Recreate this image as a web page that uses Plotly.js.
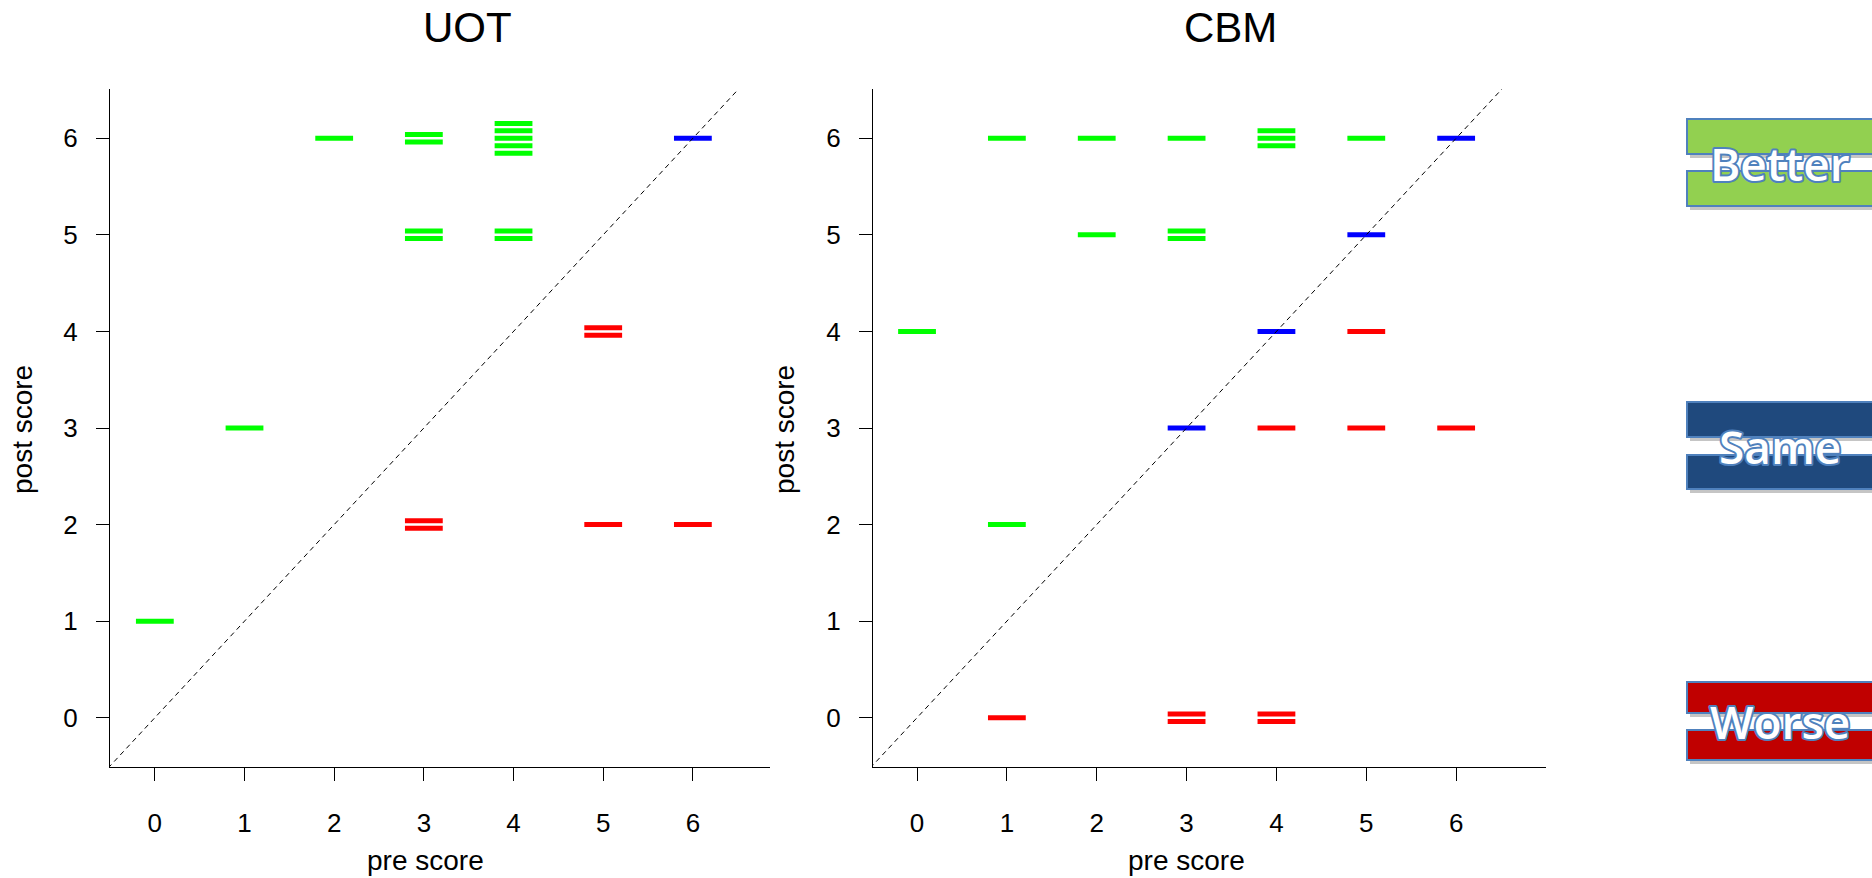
<!DOCTYPE html>
<html>
<head>
<meta charset="utf-8">
<script src="https://cdn.plot.ly/plotly-3.0.1.min.js"></script>
<style>
  html, body { margin: 0; padding: 0; background: #ffffff; }
  #chart { width: 1872px; height: 878px; }
  .annotation[data-index="0"] .annotation-text,
  .annotation[data-index="1"] .annotation-text,
  .annotation[data-index="2"] .annotation-text {
    stroke: #4f81bd; stroke-width: 4px; paint-order: stroke fill; stroke-linejoin: round;
  }
</style>
</head>
<body>
<div id="chart"></div>
<script>
// ---------- data (pre score, post score per participant) ----------
const uotPre  = [0, 1, 2, 3, 3, 3, 3, 3, 3, 4, 4, 4, 4, 4, 4, 4, 5, 5, 5, 6, 6];
const uotPost = [1, 3, 6, 6, 6, 5, 5, 2, 2, 6, 6, 6, 6, 6, 5, 5, 4, 4, 2, 2, 6];

const cbmPre  = [0, 1, 1, 1, 2, 2, 3, 3, 3, 3, 3, 3, 4, 4, 4, 4, 4, 4, 4, 5, 5, 5, 5, 6, 6];
const cbmPost = [4, 6, 2, 0, 6, 5, 6, 5, 5, 3, 0, 0, 6, 6, 6, 4, 3, 0, 0, 6, 5, 4, 3, 6, 3];

const panelTitles = ["UOT", "CBM"];
const tickValues = [0, 1, 2, 3, 4, 5, 6];
const tickLabels = ["0", "1", "2", "3", "4", "5", "6"];
const legendLabels = ["Better", "Same", "Worse"];

// ---------- styling ----------
const W = 1872, H = 878;
const COLORS = { better: "#00ff00", same: "#0000ff", worse: "#ff0000" };
const STACK_STEP = 0.077;   // vertical spacing of tied observations (y units)
const FONT = "Liberation Sans, Arial, sans-serif";
const px = v => v / W;
const py = v => 1 - v / H;

function stackPoints(pre, post) {
  const groups = {};
  pre.forEach((p, i) => {
    const k = p + "|" + post[i];
    (groups[k] = groups[k] || []).push(i);
  });
  const out = { better: { x: [], y: [] }, same: { x: [], y: [] }, worse: { x: [], y: [] } };
  Object.values(groups).forEach(idx => {
    const n = idx.length;
    idx.forEach((i, j) => {
      const cat = post[i] > pre[i] ? "better" : (post[i] < pre[i] ? "worse" : "same");
      out[cat].x.push(pre[i]);
      out[cat].y.push(post[i] + (j - (n - 1) / 2) * STACK_STEP);
    });
  });
  return out;
}

function panelTraces(pre, post, xa, ya) {
  const s = stackPoints(pre, post);
  const tr = [];
  ["better", "same", "worse"].forEach(cat => {
    tr.push({
      type: "scatter", mode: "markers", x: s[cat].x, y: s[cat].y,
      xaxis: xa, yaxis: ya, hoverinfo: "skip", cliponaxis: false,
      marker: { symbol: "line-ew", size: 27, color: COLORS[cat],
                line: { color: COLORS[cat], width: 5 } }
    });
  });
  tr.push({
    type: "scatter", mode: "lines", x: [-1, 8], y: [-1, 8],
    xaxis: xa, yaxis: ya, hoverinfo: "skip",
    line: { color: "#000000", width: 1, dash: "5px,4px" }
  });
  return tr;
}

const data = [
  ...panelTraces(uotPre, uotPost, "x", "y"),
  ...panelTraces(cbmPre, cbmPost, "x2", "y2")
];

function xAxis(domain, range, anchor) {
  return {
    domain: domain, range: range, anchor: anchor,
    tickmode: "array", tickvals: tickValues, ticktext: tickLabels,
    ticks: "outside", ticklen: 13, tickwidth: 1, tickcolor: "#000",
    showline: true, linecolor: "#000", linewidth: 1,
    showgrid: false, zeroline: false, fixedrange: true,
    ticklabelstandoff: 20,
    tickfont: { family: FONT, size: 26, color: "#000" }
  };
}
function yAxis(domain, range, anchor) {
  return {
    domain: domain, range: range, anchor: anchor,
    tickmode: "array", tickvals: tickValues, ticktext: tickLabels,
    ticks: "outside", ticklen: 13, tickwidth: 1, tickcolor: "#000",
    showline: true, linecolor: "#000", linewidth: 1,
    showgrid: false, zeroline: false, fixedrange: true,
    ticklabelstandoff: 13,
    tickfont: { family: FONT, size: 26, color: "#000" }
  };
}

const yDom = [py(767), py(89)];

// legend boxes (two bars with a gap, shadow behind)
const legendBoxes = [
  { fill: "#92d050", top: [119, 154], bottom: [171, 206], textY: 163 },
  { fill: "#1f497d", top: [402, 437], bottom: [455, 489], textY: 446 },
  { fill: "#c00000", top: [682, 713], bottom: [730, 760], textY: 721 }
];
const shapes = [];
legendBoxes.forEach(b => {
  [b.top, b.bottom].forEach(r => {
    shapes.push({ type: "rect", xref: "paper", yref: "paper",
      x0: px(1690), x1: px(1880), y0: py(r[1] + 4), y1: py(r[0] + 4),
      fillcolor: "rgba(90,90,90,0.35)", line: { width: 0 } });
    shapes.push({ type: "rect", xref: "paper", yref: "paper",
      x0: px(1687), x1: px(1880), y0: py(r[1]), y1: py(r[0]),
      fillcolor: b.fill, line: { color: "#4f81bd", width: 2 } });
  });
});

const annotations = [];
legendLabels.forEach((t, i) => {
  annotations.push({ text: t, xref: "paper", yref: "paper",
    x: px(1780), y: py(legendBoxes[i].textY), xanchor: "center", yanchor: "middle",
    showarrow: false, font: { family: "Open Sans, sans-serif", size: 46, weight: 600, color: "#ffffff" } });
});
// panel titles
annotations.push({ text: panelTitles[0], xref: "paper", yref: "paper", x: px(467), y: py(27),
  xanchor: "center", yanchor: "middle", showarrow: false,
  font: { family: FONT, size: 42, color: "#000" } });
annotations.push({ text: panelTitles[1], xref: "paper", yref: "paper", x: px(1230), y: py(27),
  xanchor: "center", yanchor: "middle", showarrow: false,
  font: { family: FONT, size: 42, color: "#000" } });
// axis titles
annotations.push({ text: "pre score", xref: "paper", yref: "paper", x: px(425), y: py(860),
  xanchor: "center", yanchor: "middle", showarrow: false, font: { family: FONT, size: 28, color: "#000" } });
annotations.push({ text: "pre score", xref: "paper", yref: "paper", x: px(1186), y: py(860),
  xanchor: "center", yanchor: "middle", showarrow: false, font: { family: FONT, size: 28, color: "#000" } });
annotations.push({ text: "post score", xref: "paper", yref: "paper", x: px(22), y: py(430),
  xanchor: "center", yanchor: "middle", textangle: -90, showarrow: false, font: { family: FONT, size: 28, color: "#000" } });
annotations.push({ text: "post score", xref: "paper", yref: "paper", x: px(784), y: py(430),
  xanchor: "center", yanchor: "middle", textangle: -90, showarrow: false, font: { family: FONT, size: 28, color: "#000" } });

const layout = {
  width: W, height: H,
  margin: { l: 0, r: 0, t: 0, b: 0, pad: 0 },
  paper_bgcolor: "#ffffff", plot_bgcolor: "#ffffff",
  showlegend: false,
  xaxis:  xAxis([px(110), px(770)], [-0.5, 6.86], "y"),
  yaxis:  yAxis(yDom, [-0.51, 6.51], "x"),
  xaxis2: xAxis([px(873), px(1546)], [-0.49, 7.0], "y2"),
  yaxis2: yAxis(yDom, [-0.51, 6.51], "x2"),
  shapes: shapes,
  annotations: annotations
};

Plotly.newPlot("chart", data, layout, { staticPlot: true, displayModeBar: false });
</script>
</body>
</html>
